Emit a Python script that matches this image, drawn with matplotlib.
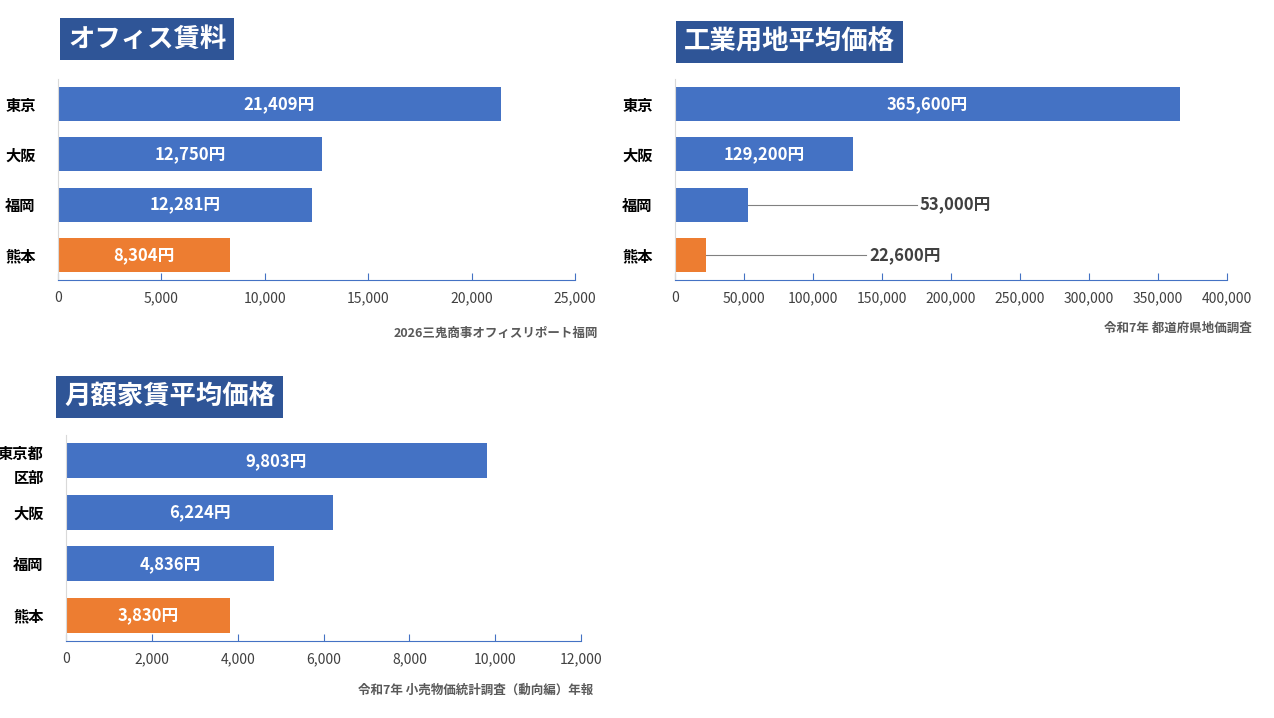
import matplotlib.pyplot as plt
from matplotlib.ticker import FuncFormatter

plt.rcParams['font.family'] = ['Noto Sans CJK JP', 'DejaVu Sans']

BLUE = "#4472C4"
ORANGE = "#ED7D31"
TITLE_BG = "#2F5597"

cities = ["東京", "大阪", "福岡", "熊本"]
office_rent = [21409, 12750, 12281, 8304]
land_price = [365600, 129200, 53000, 22600]
home_cities = ["東京都\n区部", "大阪", "福岡", "熊本"]
home_rent = [9803, 6224, 4836, 3830]

W, H = 1274, 718
fig = plt.figure(figsize=(W / 100, H / 100), dpi=100)


def px_axes(x0, y0, x1, y1):
    return fig.add_axes([x0 / W, 1 - y1 / H, (x1 - x0) / W, (y1 - y0) / H])


def title_box(x, y, text):
    fig.text(x / W, 1 - y / H, text, color="white", fontsize=19, fontweight="bold",
             ha="left", va="center",
             bbox=dict(boxstyle="square,pad=0.3", fc=TITLE_BG, ec="none"))


def bar_chart(ax, labels, values, xmax, step, outside=()):
    colors = [BLUE] * (len(values) - 1) + [ORANGE]
    ax.barh(range(len(values)), values, height=0.68, color=colors)
    ax.set_ylim(3.5, -0.5)
    ax.set_xlim(0, xmax)
    ax.set_xticks(range(0, xmax + 1, step))
    ax.xaxis.set_major_formatter(FuncFormatter(lambda v, p: f"{int(v):,}"))
    ax.set_yticks(range(len(values)))
    ax.set_yticklabels(labels, fontsize=11, fontweight="bold", linespacing=1.6)
    for s in ["top", "right"]:
        ax.spines[s].set_visible(False)
    ax.spines["left"].set_color("#D9D9D9")
    ax.spines["bottom"].set_color(BLUE)
    ax.tick_params(axis="y", length=0, pad=16)
    ax.tick_params(axis="x", direction="in", length=5, color=BLUE, labelsize=10,
                   labelcolor="#404040", pad=8)
    for i, v in enumerate(values):
        if i in outside:
            end = v + xmax * outside[i]
            ax.plot([v, end], [i, i], color="#808080", lw=0.8)
            ax.text(end + xmax * 0.005, i, f"{v:,}円", ha="left", va="center",
                    fontsize=12, fontweight="bold", color="#404040")
        else:
            ax.text(v / 2, i, f"{v:,}円", ha="center", va="center",
                    fontsize=12, fontweight="bold", color="white")


ax1 = px_axes(58, 79, 575, 280)
bar_chart(ax1, cities, office_rent, 25000, 5000)
title_box(68, 39, "オフィス賃料")
fig.text(598 / W, 1 - 333 / H, "2026三鬼商事オフィスリポート福岡", ha="right", va="center",
         fontsize=9, fontweight="bold", color="#595959")

ax2 = px_axes(675, 79, 1227, 280)
bar_chart(ax2, cities, land_price, 400000, 50000, outside={2: 0.305, 3: 0.29})
title_box(684, 42, "工業用地平均価格")
fig.text(1252 / W, 1 - 328 / H, "令和7年 都道府県地価調査", ha="right", va="center",
         fontsize=9, fontweight="bold", color="#595959")

ax3 = px_axes(66, 435, 581, 641)
bar_chart(ax3, home_cities, home_rent, 12000, 2000)
title_box(64, 397, "月額家賃平均価格")
fig.text(593 / W, 1 - 690 / H, "令和7年 小売物価統計調査（動向編）年報", ha="right", va="center",
         fontsize=9, fontweight="bold", color="#595959")

fig.savefig("out.png", dpi=100)
